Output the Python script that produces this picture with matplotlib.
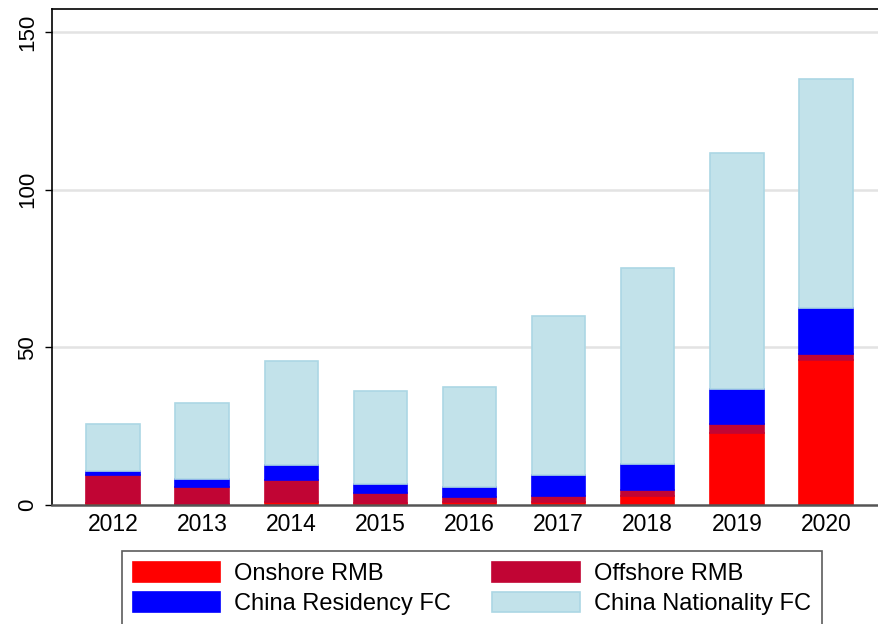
import numpy as np
import matplotlib
matplotlib.use("Agg")
import matplotlib.pyplot as plt

plt.rcParams['font.family'] = ['Liberation Sans', 'DejaVu Sans']

years = ['2012', '2013', '2014', '2015', '2016', '2017', '2018', '2019', '2020']
onshore_rmb = [0.6, 0.3, 1.1, 0.6, 0.8, 1.0, 2.9, 22.8, 46.0]
offshore_rmb = [9.0, 5.5, 6.9, 3.2, 1.8, 1.9, 1.9, 2.9, 2.0]
residency_fc = [1.1, 2.5, 4.8, 3.0, 3.2, 6.6, 8.2, 11.1, 14.5]
nationality_fc = [15.1, 24.1, 33.0, 29.4, 31.7, 50.4, 62.2, 74.8, 72.6]

labels = ['Onshore RMB', 'Offshore RMB', 'China Residency FC', 'China Nationality FC']
colors = ['#ff0000', '#c10534', '#0000ff', '#c2e2ea']
edges = ['#ff0000', '#c10534', '#0000ff', '#acd7e4']

fig = plt.figure(figsize=(8.79, 6.24), dpi=100)
ax = fig.add_axes([52 / 879, 1 - 505 / 624, 1 - 52 / 879, (505 - 9) / 624])

x = np.arange(len(years))
series = [onshore_rmb, offshore_rmb, residency_fc, nationality_fc]
bottom = np.zeros(len(years))
handles = []
for vals, lab, col, ec in zip(series, labels, colors, edges):
    h = ax.bar(x, vals, width=0.6, bottom=bottom, color=col, edgecolor=ec,
               linewidth=1.2, label=lab, zorder=3)
    handles.append(h)
    bottom += np.array(vals)

ax.set_xlim(-0.685, 8.595)
ax.set_ylim(0, 157.3)
ax.set_yticks([0, 50, 100, 150])
ax.set_xticks(x)
ax.set_xticklabels(years, fontsize=16.5)
for t in ax.get_yticklabels():
    t.set_rotation(90)
    t.set_va('center')
    t.set_fontsize(16)
ax.tick_params(axis='x', length=0, pad=6)
ax.tick_params(axis='y', length=5, width=1, pad=5)

for yv in [50, 100, 150]:
    ax.axhline(yv, color='#e3e3e3', linewidth=1.8, zorder=1)

ax.spines['right'].set_visible(False)
ax.spines['top'].set_linewidth(1.2)
ax.spines['left'].set_linewidth(1.2)
ax.spines['bottom'].set_color('#555555')
ax.spines['bottom'].set_linewidth(1.8)
ax.spines['bottom'].set_zorder(4)

# legend is filled row by row in the original
order = [0, 2, 1, 3]
leg = fig.legend([handles[i] for i in order], [labels[i] for i in order],
                 loc='upper left', ncol=2,
                 bbox_to_anchor=(122 / 879, 1 - 551 / 624),
                 fontsize=17, frameon=True, fancybox=False,
                 handlelength=3.7, handleheight=0.95, handletextpad=0.6,
                 columnspacing=1.75, labelspacing=0.3, borderpad=0.45,
                 borderaxespad=0)
leg.get_frame().set_edgecolor('#333333')
leg.get_frame().set_linewidth(1.2)

fig.savefig('out.png', dpi=100)
